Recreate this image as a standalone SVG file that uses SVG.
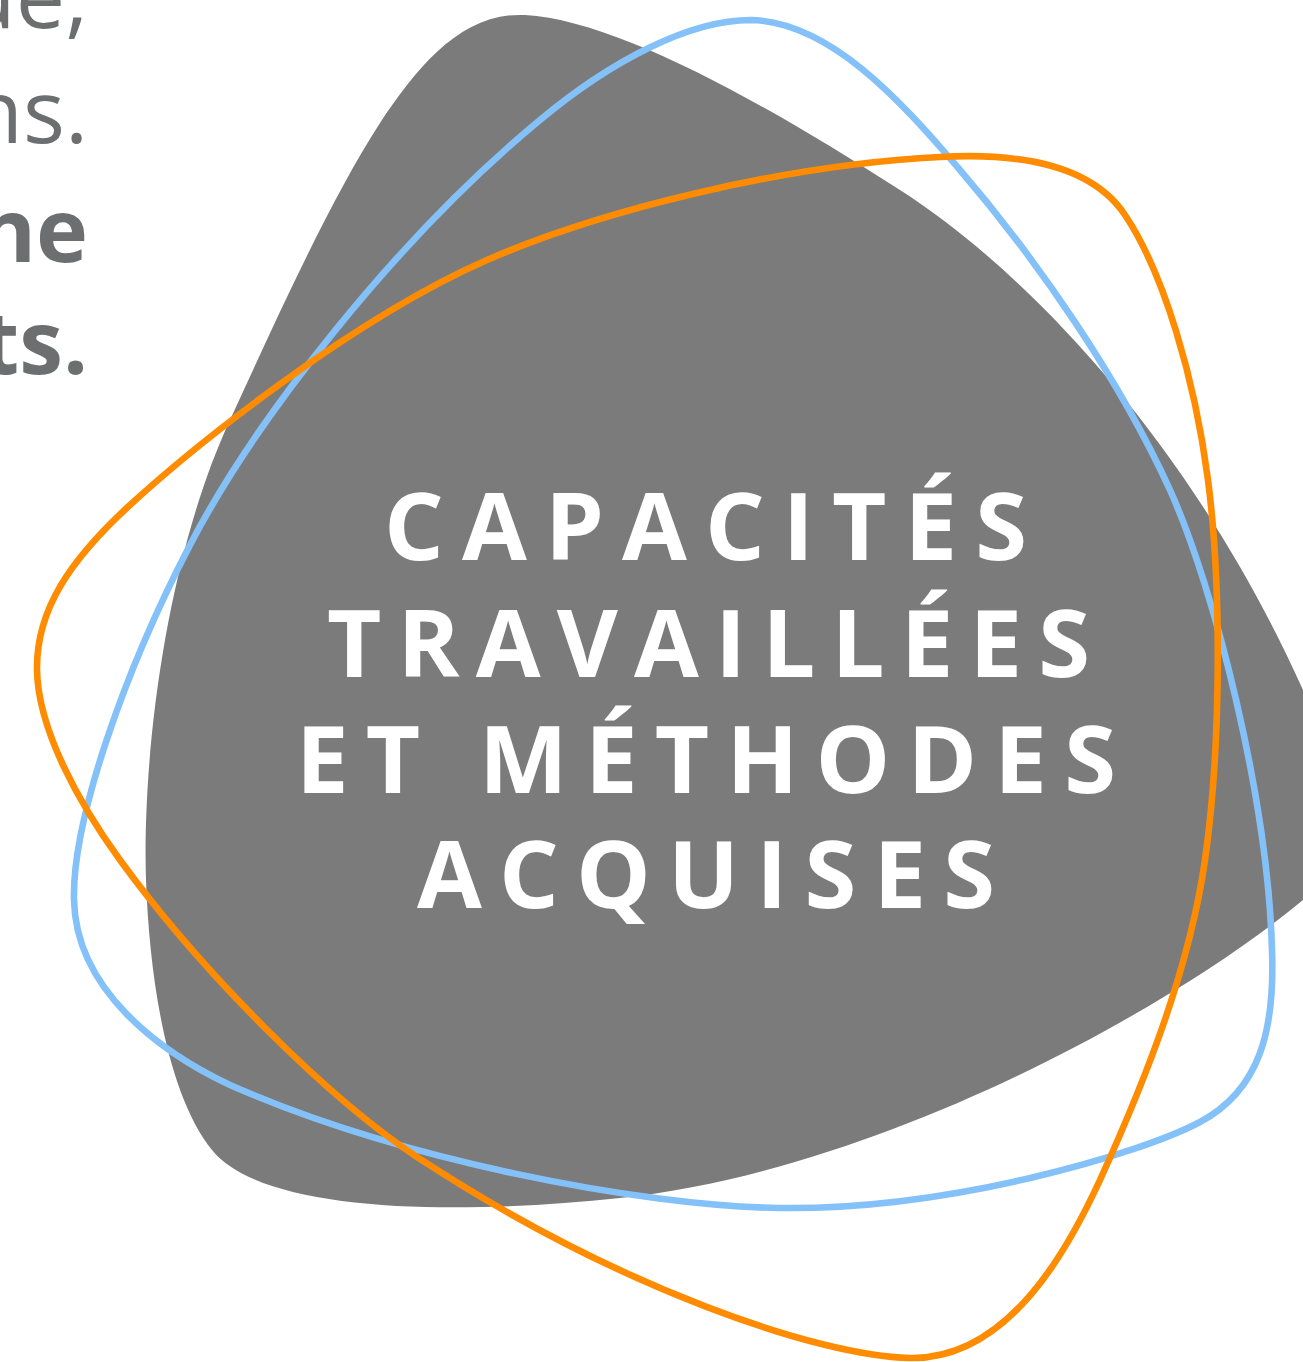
<svg xmlns="http://www.w3.org/2000/svg" width="1303" height="1362" viewBox="0 0 1303 1362">
<style>
.side{font-family:"Open Sans","Liberation Sans",sans-serif;font-size:88px;fill:#6d6e70;text-anchor:end}
.b{font-weight:700}
.title{font-family:"Open Sans","Liberation Sans",sans-serif;font-size:94px;font-weight:700;fill:#ffffff}
.loop{fill:none;stroke-width:6.6}
</style>
<rect width="1303" height="1362" fill="#ffffff"/>
<g id="side-text">
<text class="side" x="88" y="28">ue,</text>
<text class="side" x="88" y="143">ns.</text>
<text class="side b" x="88" y="262">ne</text>
<text class="side b" x="88" y="374">ts.</text>
</g>
<g id="gray-shape">
<path fill="#7b7b7b" d="M525,15 C615,20 760,100 900,190 C1040,280 1200,460 1303,690 C1344,782 1348,866 1303,900 C1170,1010 880,1170 620,1198 C450,1216 262,1212 212,1150 C170,1098 150,990 146,880 C142,760 165,560 230,420 C275,322 330,200 380,123 C418,66 462,12 525,15 Z"/>
</g>
<g id="blue-loop">
<path class="loop" stroke="#85c1f9" d="M751,20 C830,22 900,100 960,170 C1038,261 1120,380 1170,490 C1215,590 1268,800 1272,950 C1275,1030 1260,1090 1200,1122 C1140,1154 950,1210 780,1208 C640,1206 400,1160 230,1085 C160,1052 76,990 74,900 C72,820 125,670 190,545 C255,420 395,240 540,120 C612,60 690,20 751,20 Z"/>
</g>
<g id="orange-loop">
<path class="loop" stroke="#ff8c00" d="M940,157 C1030,152 1095,170 1125,215 C1164,273 1195,380 1208,480 C1221,580 1222,740 1205,860 C1190,964 1150,1070 1100,1180 C1070,1245 1010,1360 910,1358 C820,1356 620,1290 417,1157 C326,1097 200,970 120,860 C80,805 38,730 37,670 C36,610 70,560 130,505 C190,450 350,320 487,260 C597,212 780,165 940,157 Z"/>
</g>
<g id="title">
<text class="title" x="384" y="560" textLength="643" lengthAdjust="spacing">CAPACITÉS</text>
<text class="title" x="327" y="677" textLength="763" lengthAdjust="spacing">TRAVAILLÉES</text>
<text class="title" x="296" y="793" textLength="820" lengthAdjust="spacing">ET MÉTHODES</text>
<text class="title" x="417" y="908" textLength="578" lengthAdjust="spacing">ACQUISES</text>
</g>
</svg>
